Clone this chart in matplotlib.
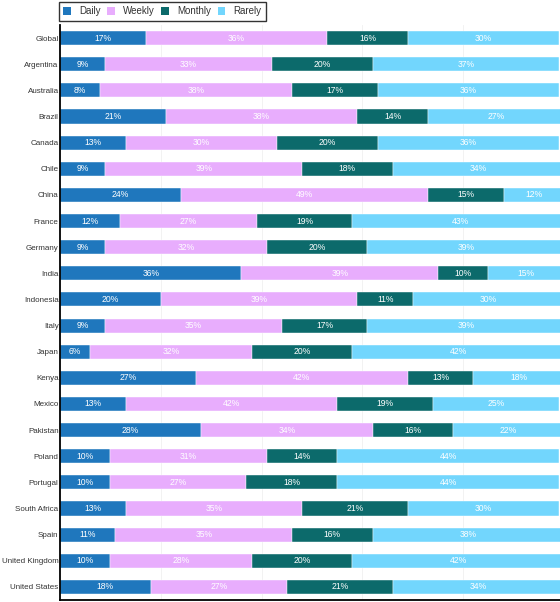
import numpy as np
import matplotlib.pyplot as plt
from matplotlib.patches import Patch

plt.rcParams['font.family'] = ['Liberation Sans', 'DejaVu Sans']

countries = ['Global', 'Argentina', 'Australia', 'Brazil', 'Canada', 'Chile', 'China',
             'France', 'Germany', 'India', 'Indonesia', 'Italy', 'Japan', 'Kenya',
             'Mexico', 'Pakistan', 'Poland', 'Portugal', 'South Africa', 'Spain',
             'United Kingdom', 'United States']
daily = [17, 9, 8, 21, 13, 9, 24, 12, 9, 36, 20, 9, 6, 27, 13, 28, 10, 10, 13, 11, 10, 18]
weekly = [36, 33, 38, 38, 30, 39, 49, 27, 32, 39, 39, 35, 32, 42, 42, 34, 31, 27, 35, 35, 28, 27]
monthly = [16, 20, 17, 14, 20, 18, 15, 19, 20, 10, 11, 17, 20, 13, 19, 16, 14, 18, 21, 16, 20, 21]
rarely = [30, 37, 36, 27, 36, 34, 12, 43, 39, 15, 30, 39, 42, 18, 25, 22, 44, 44, 30, 38, 42, 34]

series = [('Daily', daily, '#1f77bd'), ('Weekly', weekly, '#e8adfd'),
          ('Monthly', monthly, '#0c6a6b'), ('Rarely', rarely, '#72d6fd')]

fig = plt.figure(figsize=(5.6, 6.02), dpi=100)
ax = fig.add_axes([60 / 560, 2 / 602, 500 / 560, 575 / 602])

y = np.arange(len(countries))
left = np.zeros(len(countries))
for name, vals, col in series:
    vals = np.array(vals, dtype=float)
    ax.barh(y, vals, left=left, height=0.54, color=col, edgecolor='white',
            linewidth=0.3, zorder=2)
    for yy, l, v in zip(y, left, vals):
        ax.text(l + v / 2, yy, '%d%%' % v, ha='center', va='center',
                color='white', fontsize=6.2, zorder=3)
    left += vals

ax.set_xlim(0, 99.2)
ax.set_ylim(len(countries) - 0.5, -0.5)
ax.set_yticks(y)
ax.set_yticklabels(countries, fontsize=5.8, color='#333333')
ax.tick_params(axis='y', length=0, pad=1)
ax.set_xticks([20, 40, 60, 80])
ax.set_xticklabels([])
ax.tick_params(axis='x', length=0)
ax.grid(axis='x', color='#f0f0f0', linewidth=0.6, zorder=0)
ax.spines['top'].set_visible(False)
ax.spines['right'].set_visible(False)
ax.spines['left'].set_linewidth(1.3)
ax.spines['bottom'].set_linewidth(1.3)

handles = [Patch(facecolor=c, label=n) for n, _, c in series]
leg = fig.legend(handles=handles, ncol=4, loc='upper left',
                 bbox_to_anchor=(59 / 560, 1 - 2 / 602), fontsize=7,
                 frameon=True, fancybox=False, edgecolor='black',
                 handlelength=0.8, handleheight=0.8, columnspacing=0.7,
                 handletextpad=0.8, borderpad=0.45, borderaxespad=0)
leg.get_frame().set_linewidth(1.0)
for t in leg.get_texts():
    t.set_color('#333333')

fig.savefig('out.png', dpi=100)
